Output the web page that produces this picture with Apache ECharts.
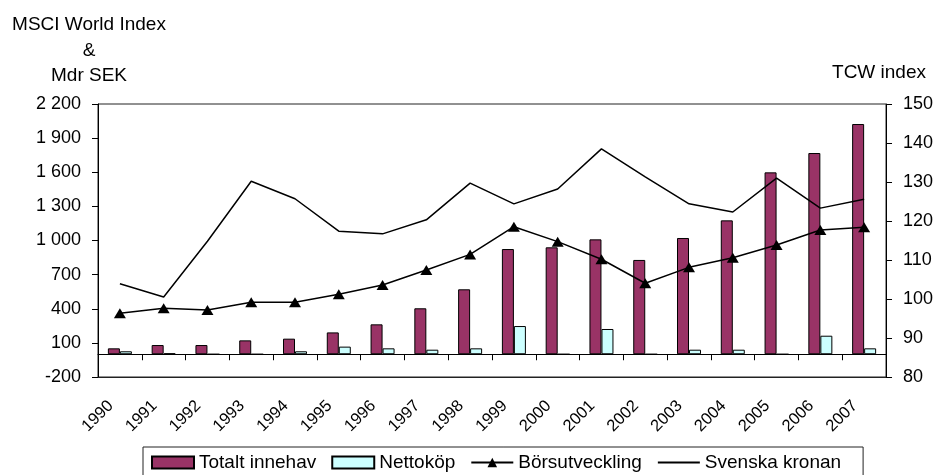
<!DOCTYPE html>
<html>
<head>
<meta charset="utf-8">
<script src="https://cdn.jsdelivr.net/npm/echarts@6/dist/echarts.min.js"></script>
<style>
  html, body { margin: 0; padding: 0; background: #fff; }
  #chart { width: 943px; height: 475px; }
</style>
</head>
<body>
<div id="chart"></div>
<script>
// Years on the category axis
const years = ['1990','1991','1992','1993','1994','1995','1996','1997','1998',
               '1999','2000','2001','2002','2003','2004','2005','2006','2007'];

// Holdings and net purchases, billion SEK (left axis)
const totaltInnehav = [52, 81, 81, 122, 137, 192, 263, 404, 571,
                       925, 940, 1010, 829, 1022, 1177, 1599, 1769, 2024];
const nettokop = [26, 8, 0, 0, 26, 67, 52, 40, 52,
                  248, 0, 222, 0, 40, 40, 0, 163, 52];

// MSCI World Index (left axis)
const borsutveckling = [360, 404, 389, 457, 457, 527, 609, 741, 878,
                        1121, 990, 835, 624, 764, 849, 960, 1092, 1116];

// Krona, TCW index (right axis)
const svenskaKronan = [103.9, 100.5, 114.8, 130.2, 125.7, 117.4, 116.7, 120.3, 129.7,
                       124.4, 128.2, 138.5, 131.3, 124.4, 122.3, 131.0, 123.3, 125.6];

// Tick values for the two value axes
const leftTicks = [-200, 100, 400, 700, 1000, 1300, 1600, 1900, 2200];
const rightTicks = [80, 90, 100, 110, 120, 130, 140, 150];

const FONT = 'Liberation Sans, Arial, sans-serif';
const INK = '#000';

function spaced(v) {
  const s = Math.abs(v).toString().replace(/\B(?=(\d{3})+(?!\d))/g, ' ');
  return (v < 0 ? '-' : '') + s;
}

const chart = echarts.init(document.getElementById('chart'), null, { renderer: 'canvas' });

chart.setOption({
  animation: false,
  backgroundColor: '#fff',
  textStyle: { fontFamily: FONT, color: INK },
  grid: {
    left: 98, right: 50, top: 104, bottom: 98,
    show: true, borderColor: '#222', borderWidth: 1, backgroundColor: 'transparent'
  },
  legend: {
    left: 143, top: 447,
    padding: [6, 22, 30, 8],
    borderColor: '#222', borderWidth: 1,
    itemWidth: 42, itemHeight: 12, itemGap: 15,
    textStyle: { fontFamily: FONT, fontSize: 19, color: INK },
    data: [
      { name: 'Totalt innehav', icon: 'rect' },
      { name: 'Nettoköp', icon: 'rect' },
      { name: 'Börsutveckling' },
      { name: 'Svenska kronan',
        itemStyle: { color: 'rgba(0,0,0,0)', borderColor: 'rgba(0,0,0,0)', borderWidth: 0 } }
    ]
  },
  xAxis: [
    {
      // axis line through zero with ticks between categories
      type: 'category', data: years, boundaryGap: true,
      axisLine: { show: true, onZero: true, onZeroAxisIndex: 0, lineStyle: { color: INK, width: 1 } },
      axisTick: { show: true, inside: false, length: 6, alignWithLabel: false, lineStyle: { color: INK } },
      axisLabel: { show: false },
      splitLine: { show: false }
    },
    {
      // bottom edge carrying the year labels
      type: 'category', data: years, boundaryGap: true, position: 'bottom',
      axisLine: { show: true, onZero: false, lineStyle: { color: '#222' } },
      axisTick: { show: false },
      axisLabel: { show: true, interval: 0, rotate: 45, margin: 17,
                   padding: [0, 13, 16, 0],
                   fontFamily: FONT, fontSize: 16.5, color: INK },
      splitLine: { show: false }
    }
  ],
  yAxis: [
    {
      type: 'value', min: -200, max: 2200, position: 'left',
      name: 'MSCI World Index\n&\nMdr SEK', nameLocation: 'end', nameGap: 15,
      nameTextStyle: { fontFamily: FONT, fontSize: 19, color: INK, lineHeight: 25.5,
                       align: 'center', padding: [0, 18, 0, 0] },
      axisLine: { show: true, lineStyle: { color: INK, width: 1 } },
      axisTick: { show: true, length: 6, customValues: leftTicks, lineStyle: { color: INK } },
      axisLabel: { show: true, margin: 17, customValues: leftTicks, formatter: spaced,
                   fontFamily: FONT, fontSize: 18, color: INK },
      splitLine: { show: false }
    },
    {
      type: 'value', min: 80, max: 150, interval: 10, position: 'right',
      name: 'TCW index', nameLocation: 'end', nameGap: 20,
      nameTextStyle: { fontFamily: FONT, fontSize: 19, color: INK, lineHeight: 22,
                       align: 'center', padding: [0, 14, 0, 0] },
      axisLine: { show: true, lineStyle: { color: INK, width: 1 } },
      axisTick: { show: true, length: 6, customValues: rightTicks, lineStyle: { color: INK } },
      axisLabel: { show: true, margin: 17, customValues: rightTicks,
                   fontFamily: FONT, fontSize: 18, color: INK },
      splitLine: { show: false }
    }
  ],
  series: [
    {
      name: 'Totalt innehav', type: 'bar', xAxisIndex: 0, yAxisIndex: 0,
      data: totaltInnehav, barWidth: 12, barGap: '0%',
      itemStyle: { color: '#993366', borderColor: INK, borderWidth: 1 }
    },
    {
      name: 'Nettoköp', type: 'bar', xAxisIndex: 0, yAxisIndex: 0,
      data: nettokop, barWidth: 12, barGap: '0%',
      itemStyle: { color: '#CCFFFF', borderColor: INK, borderWidth: 1 }
    },
    {
      name: 'Börsutveckling', type: 'line', xAxisIndex: 0, yAxisIndex: 0,
      data: borsutveckling, symbol: 'triangle', symbolSize: [12, 10], showSymbol: true,
      lineStyle: { color: INK, width: 1.5 },
      itemStyle: { color: INK, borderColor: INK, borderWidth: 0 },
      z: 5
    },
    {
      name: 'Svenska kronan', type: 'line', xAxisIndex: 0, yAxisIndex: 1,
      data: svenskaKronan, symbol: 'none', showSymbol: false,
      lineStyle: { color: INK, width: 1.5 },
      itemStyle: { color: INK },
      z: 5
    }
  ]
});
</script>
</body>
</html>
